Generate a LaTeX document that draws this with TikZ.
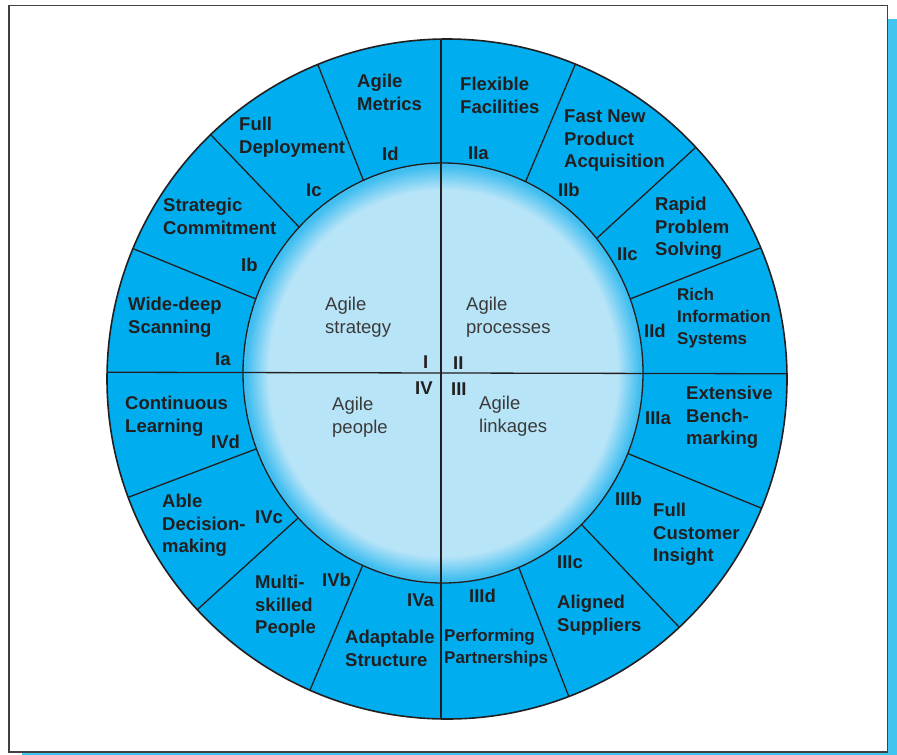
\documentclass[tikz,border=0pt]{standalone}
\usepackage{fontspec}
\setmainfont{Liberation Sans}
\usepackage{tikz}
\definecolor{ringblue}{RGB}{0,174,239}
\definecolor{coreblue}{RGB}{184,228,248}
\definecolor{glowblue}{RGB}{64,190,240}
\definecolor{shadowblue}{RGB}{64,197,241}
\definecolor{ink}{RGB}{35,31,32}
\definecolor{coreink}{RGB}{58,58,58}
\pgfdeclareradialshading{coreglow}{\pgfpoint{0bp}{0bp}}{color(0bp)=(coreblue); color(21.8bp)=(coreblue); color(24.6bp)=(glowblue); color(25bp)=(glowblue)}

\begin{document}
\begin{tikzpicture}[x=1pt, y=-1pt,
  seg/.style={font=\fontsize{18.5}{22.5}\selectfont\bfseries, text=ink,
              align=left, anchor=north west, inner sep=0pt},
  segsm/.style={seg, font=\fontsize{17}{22}\selectfont\bfseries},
  core/.style={seg, font=\fontsize{18.5}{23}\selectfont, text=coreink},
  spoke/.style={draw=ink, line width=1.3pt}
]
  \useasboundingbox (0,0) rectangle (897,755);
  \fill[shadowblue] (22,19) rectangle (897,755);
  \filldraw[fill=white, draw=black!75, line width=1.1pt] (9,5.5) rectangle (887.5,752);

  % ring of sixteen segments
  \coordinate (rim) at (447,379);
  \fill[ringblue] (rim) circle (340);
  \begin{scope}
    \clip (rim) circle (340);
    \foreach \xa/\ya/\xb/\yb in {256/299/134/249, 300/228/212/136, 364/182/318/65,
                       525/183/575/65, 596/239/695/148, 630/299/760/248,
                       629/454/761/508, 582/525/679/627, 519/568/569/697,
                       256/449/129/497, 297/519/198/609, 362/567/310/690}
      \draw[spoke, shorten <=-12pt, shorten >=-12pt] (\xa,\ya) -- (\xb,\yb);
  \end{scope}
  \shade[shading=coreglow] (443,373) ellipse [x radius=200, y radius=210];
  \draw[spoke] (443,373) ellipse [x radius=200, y radius=210];
  \begin{scope}
    \clip (rim) circle (340);
    \draw[spoke] (441,0) -- (441,755);
    \draw[spoke] (0,372) -- (897,374);
  \end{scope}
  \draw[ink, line width=1.6pt] (rim) circle (340);

  % quadrants
  \node[core] (strat) at (325,297) {Agile\\strategy};
  \node[core] (proc)  at (466,297) {Agile\\processes};
  \node[core] (peop)  at (332,397) {Agile\\people};
  \node[core] (link)  at (479,396) {Agile\\linkages};
  \node[seg] (q1) at (423,356) {I};
  \node[seg] (q2) at (453,357) {II};
  \node[seg] (q3) at (451,383) {III};
  \node[seg] (q4) at (415,382) {IV};

  % I
  \node[seg] (scan)   at (128,297) {Wide-deep\\Scanning};
  \node[seg] (commit) at (163,198) {Strategic\\Commitment};
  \node[seg] (deploy) at (239,117) {Full\\Deployment};
  \node[seg] (metric) at (357,74)  {Agile\\Metrics};
  \node[seg] (ia) at (215,353) {Ia};
  \node[seg] (ib) at (241,258) {Ib};
  \node[seg] (ic) at (306,184) {Ic};
  \node[seg] (id) at (382,147) {Id};

  % II
  \node[seg]   (facil)  at (460,77)  {Flexible\\Facilities};
  \node[seg]   (acq)    at (564,110) {Fast New\\Product\\Acquisition};
  \node[seg]   (solve)  at (655,197) {Rapid\\Problem\\Solving};
  \node[segsm] (infosys) at (677,288) {Rich\\Information\\Systems};
  \node[seg] (iia) at (468,147) {IIa};
  \node[seg] (iib) at (558,183) {IIb};
  \node[seg] (iic) at (617,248) {IIc};
  \node[seg] (iid) at (644,324) {IId};

  % III
  \node[seg]   (bench)   at (686,386) {Extensive\\Bench-\\marking};
  \node[seg]   (insight) at (653,503) {Full\\Customer\\Insight};
  \node[seg]   (suppl)   at (557,595) {Aligned\\Suppliers};
  \node[segsm] (partner) at (444,629) {Performing\\Partnerships};
  \node[seg] (iiia) at (645,412) {IIIa};
  \node[seg] (iiib) at (615,492) {IIIb};
  \node[seg] (iiic) at (557,556) {IIIc};
  \node[seg] (iiid) at (469,589) {IIId};

  % IV
  \node[seg] (struct) at (345,630) {Adaptable\\Structure};
  \node[seg] (skill)  at (255,575) {Multi-\\skilled\\People};
  \node[seg] (decide) at (162,494) {Able\\Decision-\\making};
  \node[seg] (learn)  at (125,396) {Continuous\\Learning};
  \node[seg] (iva) at (407,594) {IVa};
  \node[seg] (ivb) at (322,573) {IVb};
  \node[seg] (ivc) at (255,511) {IVc};
  \node[seg] (ivd) at (211,435) {IVd};
\end{tikzpicture}
\end{document}
